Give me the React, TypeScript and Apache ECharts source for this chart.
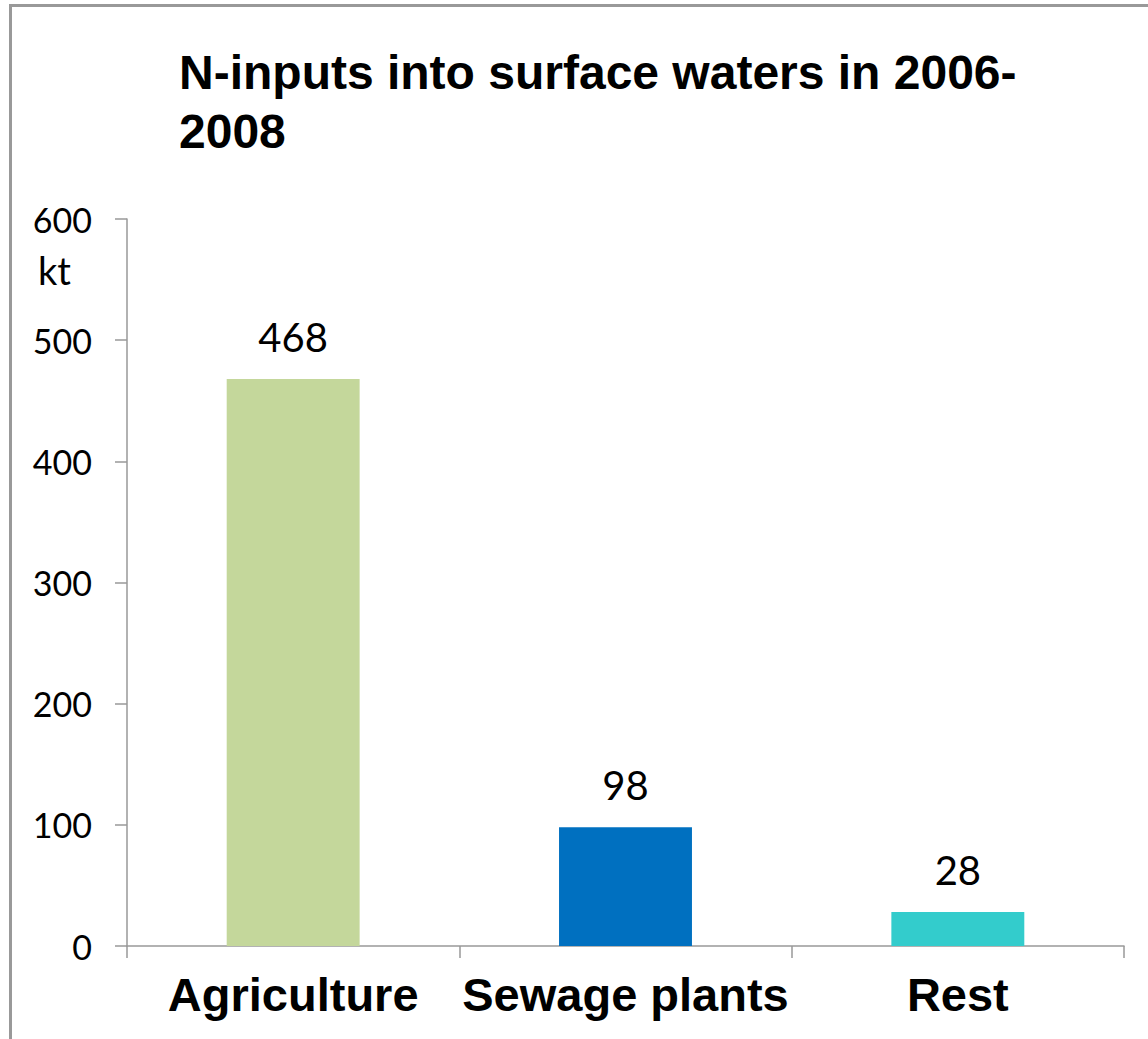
import React, { useEffect, useRef } from "react";
import * as echarts from "echarts";

const categories = ["Agriculture", "Sewage plants", "Rest"];
const values = [468, 98, 28];
const barColors = ["#C4D79B", "#0070C0", "#33CCCC"];
const yTicks = { min: 0, max: 600, interval: 100 };
const titleText = "N-inputs into surface waters in 2006-\n2008";
const unitText = "kt";

export default function App() {
  const ref = useRef<HTMLDivElement>(null);
  useEffect(() => {
    if (!ref.current) return;
    const chart = echarts.init(ref.current, undefined, { renderer: "svg" });
    chart.setOption({
      animation: false,
      backgroundColor: "#ffffff",
      title: {
        text: titleText,
        left: 174,
        top: 38,
        textStyle: {
          fontFamily: "Liberation Sans, Arial, sans-serif",
          fontSize: 48,
          fontWeight: "bold",
          color: "#000",
          lineHeight: 59,
        },
      },
      graphic: [
        {
          type: "rect",
          shape: { x: 10.5, y: 5.5, width: 1300, height: 1200 },
          style: { fill: "none", stroke: "#999999", lineWidth: 3 },
          silent: true,
        },
        {
          type: "text",
          left: 38,
          top: 251,
          style: {
            text: unitText,
            font: "38px Lato, 'Open Sans', sans-serif",
            fill: "#000",
          },
        },
      ],
      grid: { left: 127, right: 24, top: 219, bottom: 93, containLabel: false },
      xAxis: {
        type: "category",
        data: categories,
        boundaryGap: true,
        axisLine: { lineStyle: { color: "#999999", width: 1.5 } },
        axisTick: { show: true, length: 12, lineStyle: { color: "#999999", width: 1.5 } },
        axisLabel: {
          interval: 0,
          hideOverlap: false,
          fontFamily: "Liberation Sans, Arial, sans-serif",
          fontSize: 47,
          fontWeight: "bold",
          color: "#000",
          margin: 25,
        },
      },
      yAxis: {
        type: "value",
        min: yTicks.min,
        max: yTicks.max,
        interval: yTicks.interval,
        splitLine: { show: false },
        axisLine: { show: true, lineStyle: { color: "#999999", width: 1.5 } },
        axisTick: { show: true, length: 12, lineStyle: { color: "#999999", width: 1.5 } },
        axisLabel: {
          fontFamily: "Lato, 'Open Sans', sans-serif",
          fontSize: 34,
          color: "#000",
          margin: 35,
        },
      },
      series: [
        {
          type: "bar",
          barWidth: "40%",
          data: values.map((v, i) => ({ value: v, itemStyle: { color: barColors[i] } })),
          label: {
            show: true,
            position: "top",
            distance: 22,
            fontFamily: "Lato, 'Open Sans', sans-serif",
            fontSize: 40,
            color: "#000",
          },
        },
      ],
    });
    return () => chart.dispose();
  }, []);
  return (
    <div
      ref={ref}
      style={{ position: "fixed", left: 0, top: 0, width: 1148, height: 1039 }}
    />
  );
}
